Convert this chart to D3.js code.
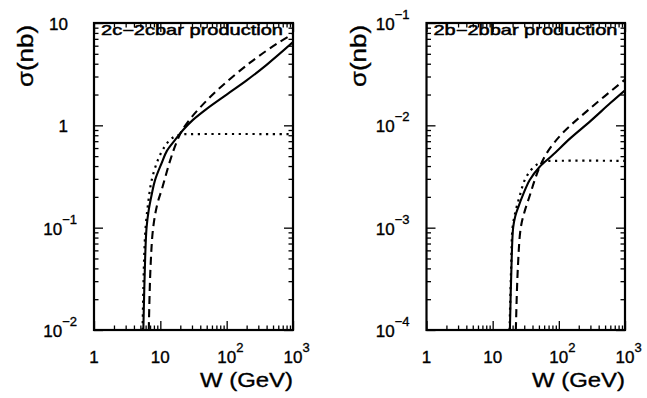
<!DOCTYPE html>
<html>
<head>
<meta charset="utf-8">
<script src="https://cdn.jsdelivr.net/npm/d3@7"></script>
<style>
  body { margin: 0; background: #fff; }
  svg { display: block; }
  text { font-family: "Liberation Sans", Arial, Helvetica, sans-serif; fill: #000; stroke: #000; stroke-width: 0.35px; }
</style>
</head>
<body>
<script>
// ---- charm pair production: sigma (nb) vs W (GeV) ----
const ccTitle = "2c−2cbar production";
const ccSolidW     = [5.54, 5.9, 6.2, 6.7, 7.4, 8.3, 10.5, 12.5, 16.7, 22, 31, 50, 100, 200, 400, 1000];
const ccSolidSigma = [0.01, 0.05, 0.1, 0.15, 0.21, 0.29, 0.43, 0.56, 0.72, 0.9, 1.13, 1.45, 2.0, 2.75, 3.9, 6.5];
const ccDashW      = [6.7, 7.1, 7.8, 9.0, 10.6, 14.0, 17.5, 21, 28, 40, 72, 225, 600, 1000];
const ccDashSigma  = [0.01, 0.04, 0.1, 0.17, 0.24, 0.45, 0.68, 0.88, 1.15, 1.5, 2.2, 4.1, 6.4, 7.8];
const ccDotW       = [5.4, 5.7, 6.0, 6.6, 7.4, 9.2, 11.8, 15, 19.8, 30, 1000];
const ccDotSigma   = [0.01, 0.05, 0.1, 0.18, 0.29, 0.46, 0.63, 0.75, 0.81, 0.82, 0.82];

// ---- bottom pair production ----
const bbTitle = "2b−2bbar production";
const bbSolidW     = [18.2, 19.2, 20.4, 22.0, 24.5, 28.8, 36.3, 51.4, 80, 150, 300, 600, 1000];
const bbSolidSigma = [1e-4, 4e-4, 1e-3, 1.3e-3, 1.6e-3, 2.1e-3, 2.92e-3, 3.94e-3, 5.1e-3, 7.5e-3, 1.1e-2, 1.65e-2, 2.2e-2];
const bbDashW      = [22.4, 24.0, 26.6, 30.5, 36.3, 43.2, 51.4, 68.6, 114, 292, 1000];
const bbDashSigma  = [1e-4, 4e-4, 1e-3, 1.45e-3, 2.05e-3, 2.92e-3, 3.94e-3, 5.6e-3, 8.4e-3, 1.45e-2, 2.8e-2];
const bbDotW       = [18.0, 19.0, 20.0, 22.5, 25.7, 30.5, 38.5, 48.5, 61, 90, 1000];
const bbDotSigma   = [1e-4, 4e-4, 1e-3, 1.5e-3, 2.05e-3, 2.92e-3, 3.7e-3, 4.2e-3, 4.45e-3, 4.5e-3, 4.5e-3];

// ---- axis tick labels ----
const xTickValues = [1, 10, 100, 1000];
const xTickLabels = [["1", ""], ["10", ""], ["10", "2"], ["10", "3"]];
const ccYTickValues = [10, 1, 0.1, 0.01];
const ccYTickLabels = [["10", ""], ["1", ""], ["10", "−1"], ["10", "−2"]];
const bbYTickValues = [0.1, 0.01, 0.001, 0.0001];
const bbYTickLabels = [["10", "−1"], ["10", "−2"], ["10", "−3"], ["10", "−4"]];

const W = 647, H = 398;
const svg = d3.select("body").append("svg").attr("width", W).attr("height", H);

function decadeTicks(lo, hi) {
  const major = [], minor = [];
  const e0 = Math.round(Math.log10(lo)), e1 = Math.round(Math.log10(hi));
  for (let e = e0; e <= e1; e++) {
    const base = Math.pow(10, e);
    major.push(base);
    if (e < e1) for (let k = 2; k <= 9; k++) minor.push(k * base);
  }
  return { major, minor };
}

function zipSeries(ws, ss) { return ws.map((w, i) => [w, ss[i]]); }

function drawPanel(p) {
  const x = d3.scaleLog().domain([1, 1000]).range([p.left, p.right]);
  const y = d3.scaleLog().domain(p.yDomain).range([p.bottom, p.top]);
  const g = svg.append("g");
  const clipId = "clip" + p.id;
  svg.append("clipPath").attr("id", clipId)
    .append("rect").attr("x", p.left).attr("y", p.top)
    .attr("width", p.right - p.left).attr("height", p.bottom - p.top);

  // ticks on all four sides, pointing inward
  const xt = decadeTicks(1, 1000);
  const yt = decadeTicks(p.yDomain[0], p.yDomain[1]);
  const tickSets = [
    [() => d3.axisBottom(x), p.bottom, 0, xt],
    [() => d3.axisTop(x), p.top, 0, xt],
    [() => d3.axisLeft(y), 0, p.left, yt],
    [() => d3.axisRight(y), 0, p.right, yt]
  ];
  tickSets.forEach(([mk, ty, tx, t]) => {
    [[t.major, 9], [t.minor, 4.5]].forEach(([vals, len]) => {
      const axis = mk().tickValues(vals).tickSize(-len).tickFormat("");
      const sel = g.append("g").attr("transform", `translate(${tx},${ty})`).call(axis);
      sel.select(".domain").remove();
      sel.selectAll("line").attr("stroke", "#000").attr("stroke-width", 1.3);
    });
  });

  // curves
  const line = d3.line().x(d => x(d[0])).y(d => y(d[1]))
    .curve(d3.curveCatmullRom.alpha(0.5));
  const curves = g.append("g").attr("clip-path", `url(#${clipId})`);
  curves.append("path").datum(zipSeries(p.dotW, p.dotS)).attr("d", line)
    .attr("fill", "none").attr("stroke", "#000").attr("stroke-width", 2.2)
    .attr("stroke-dasharray", "2.2,4.6");
  curves.append("path").datum(zipSeries(p.dashW, p.dashS)).attr("d", line)
    .attr("fill", "none").attr("stroke", "#000").attr("stroke-width", 2.1)
    .attr("stroke-dasharray", "8,5");
  curves.append("path").datum(zipSeries(p.solidW, p.solidS)).attr("d", line)
    .attr("fill", "none").attr("stroke", "#000").attr("stroke-width", 2.1);

  // frame
  g.append("rect").attr("x", p.left).attr("y", p.top)
    .attr("width", p.right - p.left).attr("height", p.bottom - p.top)
    .attr("fill", "none").attr("stroke", "#000").attr("stroke-width", 2.2);

  // x tick labels: base centred on the tick, exponent hanging to the right
  xTickValues.forEach((v, i) => {
    const [b, e] = xTickLabels[i];
    const t = g.append("text").attr("x", x(v)).attr("y", 363)
      .attr("font-size", 17).attr("text-anchor", "middle").text(b);
    if (e) {
      const bw = t.node().getComputedTextLength();
      g.append("text").attr("x", x(v) + bw / 2).attr("y", 352)
        .attr("font-size", 13).text(e);
    }
  });

  // y tick labels
  p.yTickValues.forEach((v, i) => {
    const [b, e] = p.yTickLabels[i];
    const yy = y(v) + 7;
    if (!e) {
      g.append("text").attr("x", p.left - 26).attr("y", yy)
        .attr("font-size", 17).attr("text-anchor", "end").text(b);
    } else {
      const t = g.append("text").attr("x", p.left - 17).attr("y", yy)
        .attr("font-size", 17).attr("text-anchor", "end");
      t.append("tspan").text(b);
      t.append("tspan").attr("font-size", 13).attr("dy", -11).text(e);
    }
  });

  // panel title
  g.append("text").attr("x", p.left + 7).attr("y", 35)
    .attr("font-size", 14.5)
    .attr("textLength", p.titleLen).attr("lengthAdjust", "spacingAndGlyphs")
    .style("stroke-width", "0.5px")
    .text(p.title);

  // axis titles
  g.append("text").attr("x", p.right).attr("y", 387)
    .attr("font-size", 21).attr("text-anchor", "end")
    .attr("textLength", 93).attr("lengthAdjust", "spacingAndGlyphs")
    .text("W (GeV)");
  g.append("text")
    .attr("transform", `translate(${p.left - 61},${56}) rotate(-90)`)
    .attr("font-size", 22).attr("text-anchor", "middle")
    .attr("textLength", 62).attr("lengthAdjust", "spacingAndGlyphs")
    .text("σ(nb)");
}

drawPanel({
  id: "cc", left: 94, right: 293, top: 23, bottom: 330,
  yDomain: [0.01, 10], title: ccTitle, titleLen: 182,
  yTickValues: ccYTickValues, yTickLabels: ccYTickLabels,
  solidW: ccSolidW, solidS: ccSolidSigma,
  dashW: ccDashW, dashS: ccDashSigma,
  dotW: ccDotW, dotS: ccDotSigma
});
drawPanel({
  id: "bb", left: 426.5, right: 625, top: 23, bottom: 330,
  yDomain: [0.0001, 0.1], title: bbTitle, titleLen: 184,
  yTickValues: bbYTickValues, yTickLabels: bbYTickLabels,
  solidW: bbSolidW, solidS: bbSolidSigma,
  dashW: bbDashW, dashS: bbDashSigma,
  dotW: bbDotW, dotS: bbDotSigma
});
</script>
</body>
</html>
